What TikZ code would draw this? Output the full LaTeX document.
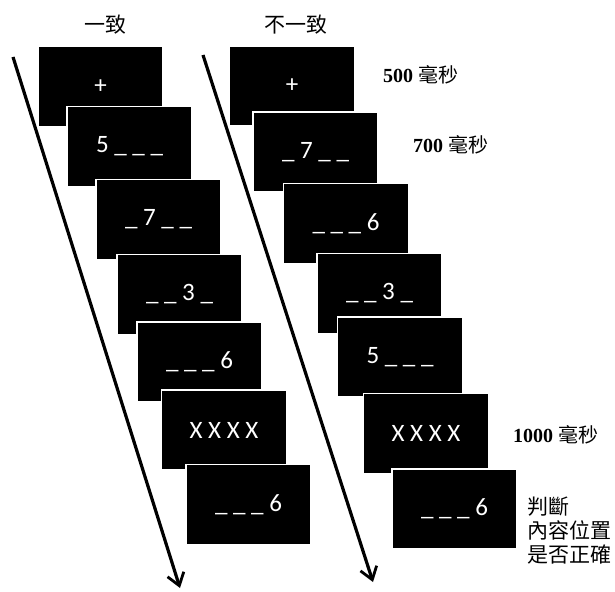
\documentclass[tikz,border=0pt]{standalone}
\usepackage{fontspec}
\setmainfont{Liberation Serif}
\newfontfamily\cjk{Noto Sans CJK TC}
\newfontfamily\boxfont{Carlito}
\usetikzlibrary{arrows.meta}
\begin{document}
\begin{tikzpicture}[x=1pt,y=-1pt,
  card/.style={draw=white,line width=1.5pt,fill=black,minimum width=125pt,minimum height=80pt,inner sep=0pt,
    text=white,font=\boxfont\fontsize{25}{27}\selectfont},
  timearrow/.style={line width=3.2pt,-{Straight Barb[length=12pt,width=17pt,line width=2.8pt]}},
  head/.style={font=\cjk\fontsize{21}{24}\selectfont},
  dur/.style={anchor=west,inner sep=0pt,font=\fontsize{20}{24}\selectfont\bfseries}
]
\useasboundingbox (0,0) rectangle (615,591);
% arrows
\coordinate (a1s) at (13,57);
\coordinate (a1e) at (180,588);
\coordinate (a2s) at (203,55);
\coordinate (a2e) at (373,582);
\draw[timearrow] (a1s) -- (a1e);
\draw[timearrow] (a2s) -- (a2e);
% headings
\node[head] (h1) at (105,25) {一致};
\node[head] (h2) at (296,25) {不一致};
% left column
\node[card] (L1) at (100.5,86.5) {+};
\node[card] (L2) at (129.5,146.5) {5 \_ \_ \_};
\node[card] (L3) at (158.5,219.5) {\_ 7 \_ \_};
\node[card] (L4) at (179.5,294.5) {\_ \_ 3 \_};
\node[card] (L5) at (199.5,362) {\_ \_ \_ 6};
\node[card] (L6) at (224,430) {X X X X};
\node[card] (L7) at (248.5,504.5) {\_ \_ \_ 6};
% right column
\node[card] (R1) at (292,86) {+};
\node[card] (R2) at (315.5,152) {\_ 7 \_ \_};
\node[card] (R3) at (346,223.5) {\_ \_ \_ 6};
\node[card] (R4) at (379.5,293.5) {\_ \_ 3 \_};
\node[card] (R5) at (400,357) {5 \_ \_ \_};
\node[card] (R6) at (426,433.5) {X X X X};
\node[card] (R7) at (454.5,509) {\_ \_ \_ 6};
% durations
\node[dur] (d1) at (383,75) {500 {\cjk\mdseries 毫秒}};
\node[dur] (d2) at (413,145) {700 {\cjk\mdseries 毫秒}};
\node[dur] (d3) at (513,435) {1000 {\cjk\mdseries 毫秒}};
\node[anchor=west,inner sep=0pt,align=left,font=\cjk\fontsize{21}{24}\selectfont] (d4) at (527,531) {判斷\\內容位置\\是否正確};
\end{tikzpicture}
\end{document}
